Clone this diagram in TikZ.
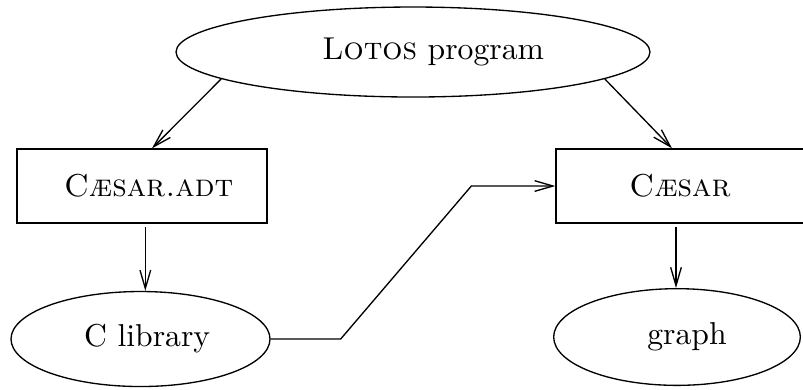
\documentclass[tikz,border=0pt]{standalone}
\usetikzlibrary{shapes.geometric,arrows.meta}
\tikzset{
    prog/.style={draw,ellipse,minimum width=#1,minimum height=28.5pt,inner sep=0pt},
    tool/.style={draw,rectangle,minimum width=75pt,minimum height=22.2pt,inner sep=0pt},
    flow/.style={-{Straight Barb[length=5.5pt,width=3.2pt]}},
    text shift/.style={execute at begin node=\hspace*{#1}}
}
\begin{document}
\begin{tikzpicture}[x=0.3pt,y=-0.3pt,every node/.style={font=\fontsize{9.5pt}{11pt}\selectfont}]
        \clip (0,0) rectangle (803,389);
        %% programs and tools
        \node[prog=142.2pt,minimum height=27pt,text shift=12pt] (lotos) at (413,52) {\textsc{Lotos} program};
        \node[tool,text shift=4pt] (adt) at (142,186) {\textsc{C\ae sar.adt}};
        \node[tool,minimum width=74.4pt] (caesar) at (680,186) {\textsc{C\ae sar}};
        \node[prog=77.7pt,text shift=4pt] (clib) at (140.5,339) {C library};
        \node[prog=74pt,minimum height=29pt,text shift=6pt] (graph) at (677,337) {graph};
        %% arrows
        \draw[flow] (lotos.188) -- ([xshift=3pt]adt.north);
        \draw[flow] (lotos.352) -- ([xshift=-2.4pt]caesar.north);
        \draw[flow] ([xshift=1pt,yshift=-1pt]adt.south) -- ([xshift=1pt]adt.south |- clib.north);
        \draw[flow] ([xshift=-1.2pt,yshift=-1pt]caesar.south) -- ([xshift=-1.2pt]caesar.south |- graph.north);
        \draw[flow] (clib.east) -- ++(21pt,0) -- ([xshift=-25.2pt]caesar.west) -- (caesar.west);
    \end{tikzpicture}
\end{document}
